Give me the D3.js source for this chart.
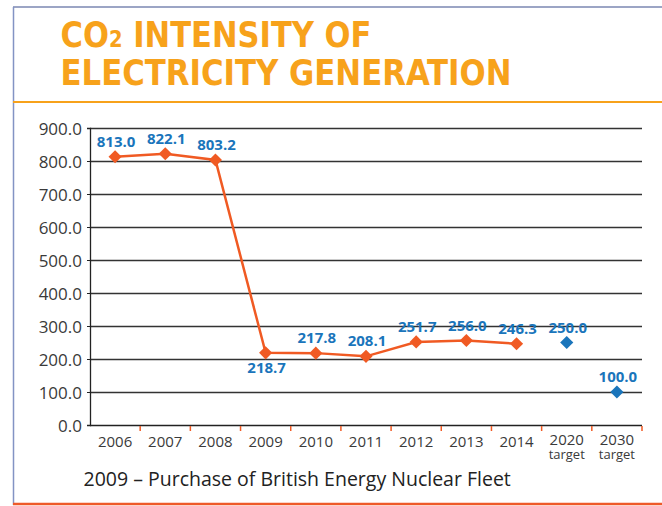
<!DOCTYPE html>
<html>
<head>
<meta charset="utf-8">
<title>co2 intensity</title>
<script src="https://cdnjs.cloudflare.com/ajax/libs/d3/7.8.5/d3.min.js"></script>
<style>
  body { margin: 0; background: #fff; }
  svg { display: block; }
</style>
</head>
<body>
<svg width="662" height="506"></svg>
<script>
// data
var years = ["2006", "2007", "2008", "2009", "2010", "2011", "2012", "2013", "2014"];
var actual = [813.0, 822.1, 803.2, 218.7, 217.8, 208.1, 251.7, 256.0, 246.3];
var targetYears = ["2020", "2030"];
var targets = [250.0, 100.0];
var yTicks = [0, 100, 200, 300, 400, 500, 600, 700, 800, 900];
// labels that sit under their point instead of above
var labelBelow = ["2009"];

var svg = d3.select("svg");
var orange = "#f7a21b", red = "#f05a23", blue = "#1a75bb";

// frame
svg.append("line").attr("x1", 13).attr("x2", 662).attr("y1", 7).attr("y2", 7)
    .attr("stroke", "#3b4d8c").attr("stroke-width", 1.2);
svg.append("line").attr("x1", 13.5).attr("x2", 13.5).attr("y1", 7).attr("y2", 505)
    .attr("stroke", "#8393c4").attr("stroke-width", 1.5);
svg.append("line").attr("x1", 13).attr("x2", 662).attr("y1", 102).attr("y2", 102)
    .attr("stroke", orange).attr("stroke-width", 2);
svg.append("line").attr("x1", 13).attr("x2", 662).attr("y1", 504).attr("y2", 504)
    .attr("stroke", "#ee5a2a").attr("stroke-width", 2.5);

// title
var titleFont = "'Liberation Sans Narrow', 'DejaVu Sans Condensed', 'Roboto Condensed', sans-serif";
var t1 = svg.append("text").attr("x", 60.5).attr("y", 47)
    .attr("font-family", titleFont).attr("font-weight", "bold").attr("font-size", 36)
    .attr("fill", orange).attr("textLength", 311).attr("lengthAdjust", "spacingAndGlyphs");
t1.append("tspan").text("CO");
t1.append("tspan").attr("font-size", 23).text("2");
t1.append("tspan").text(" INTENSITY OF");
svg.append("text").attr("x", 60.5).attr("y", 85)
    .attr("font-family", titleFont).attr("font-weight", "bold").attr("font-size", 36)
    .attr("fill", orange).attr("textLength", 451).attr("lengthAdjust", "spacingAndGlyphs")
    .text("ELECTRICITY GENERATION");

// scales
var cats = years.concat(targetYears);
var x = d3.scaleBand().domain(cats).range([90, 642]).padding(0);
var y = d3.scaleLinear().domain([0, 900]).range([425, 128]);
var cx = function (c) { return x(c) + x.bandwidth() / 2; };

// gridlines
svg.append("g").selectAll("line").data(yTicks.slice(1)).enter().append("line")
    .attr("x1", 90).attr("x2", 642)
    .attr("y1", function (d) { return Math.round(y(d)) + 0.5; })
    .attr("y2", function (d) { return Math.round(y(d)) + 0.5; })
    .attr("stroke", "#333").attr("stroke-width", 1.3);

// y axis
var yAxis = svg.append("g").attr("transform", "translate(90,0)")
    .call(d3.axisLeft(y).tickValues(yTicks).tickSize(3).tickPadding(5)
        .tickFormat(d3.format(".1f")));
yAxis.select(".domain").attr("stroke", "#222").attr("stroke-width", 1.3);
yAxis.selectAll(".tick line").attr("stroke", "#222");
yAxis.selectAll("text").attr("font-family", "'Open Sans', sans-serif")
    .attr("font-size", 17).attr("fill", "#3a3a3a").attr("dy", "0.36em");

// x axis
svg.append("line").attr("x1", 90).attr("x2", 642).attr("y1", 425.5).attr("y2", 425.5)
    .attr("stroke", "#222").attr("stroke-width", 1.3);
svg.append("g").selectAll("line").data(cats).enter().append("line")
    .attr("x1", function (c) { return x(c) + x.bandwidth(); })
    .attr("x2", function (c) { return x(c) + x.bandwidth(); })
    .attr("y1", 426).attr("y2", 431)
    .attr("stroke", red).attr("stroke-width", 1.5);
svg.append("g").selectAll("text").data(cats).enter().append("text")
    .attr("x", cx)
    .attr("y", function (c) { return targetYears.indexOf(c) >= 0 ? 445 : 447; })
    .attr("text-anchor", "middle")
    .attr("font-family", "'Open Sans', sans-serif").attr("font-size", 15).attr("fill", "#3a3a3a")
    .text(function (c) { return c; });
svg.append("g").selectAll("text").data(targetYears).enter().append("text")
    .attr("x", cx).attr("y", 459).attr("text-anchor", "middle")
    .attr("font-family", "'Open Sans', sans-serif").attr("font-size", 13).attr("fill", "#3a3a3a")
    .text("target");

// actual series
var line = d3.line().x(function (d, i) { return cx(years[i]); }).y(function (d) { return y(d); });
svg.append("path").datum(actual).attr("d", line)
    .attr("fill", "none").attr("stroke", red).attr("stroke-width", 2.5);

var diamond = d3.symbol().type(d3.symbolDiamond2).size(110);
svg.append("g").selectAll("path").data(actual).enter().append("path")
    .attr("d", diamond)
    .attr("transform", function (d, i) { return "translate(" + cx(years[i]) + "," + y(d) + ")"; })
    .attr("fill", red);
svg.append("g").selectAll("path").data(targets).enter().append("path")
    .attr("d", diamond)
    .attr("transform", function (d, i) { return "translate(" + cx(targetYears[i]) + "," + y(d) + ")"; })
    .attr("fill", blue);

// value labels
var labels = years.map(function (c, i) { return { c: c, v: actual[i] }; })
    .concat(targetYears.map(function (c, i) { return { c: c, v: targets[i] }; }));
svg.append("g").selectAll("text").data(labels).enter().append("text")
    .attr("x", function (d) { return cx(d.c) + 1; })
    .attr("y", function (d) { return y(d.v) + (labelBelow.indexOf(d.c) >= 0 ? 20 : -10); })
    .attr("text-anchor", "middle")
    .attr("font-family", "'Open Sans', sans-serif").attr("font-weight", "bold")
    .attr("font-size", 15).attr("fill", blue)
    .text(function (d) { return d3.format(".1f")(d.v); });

// footnote
svg.append("text").attr("x", 83.5).attr("y", 486)
    .attr("font-family", "'Open Sans', sans-serif").attr("font-size", 19.5).attr("fill", "#222")
    .text("2009 \u2013 Purchase of British Energy Nuclear Fleet");
</script>
</body>
</html>
